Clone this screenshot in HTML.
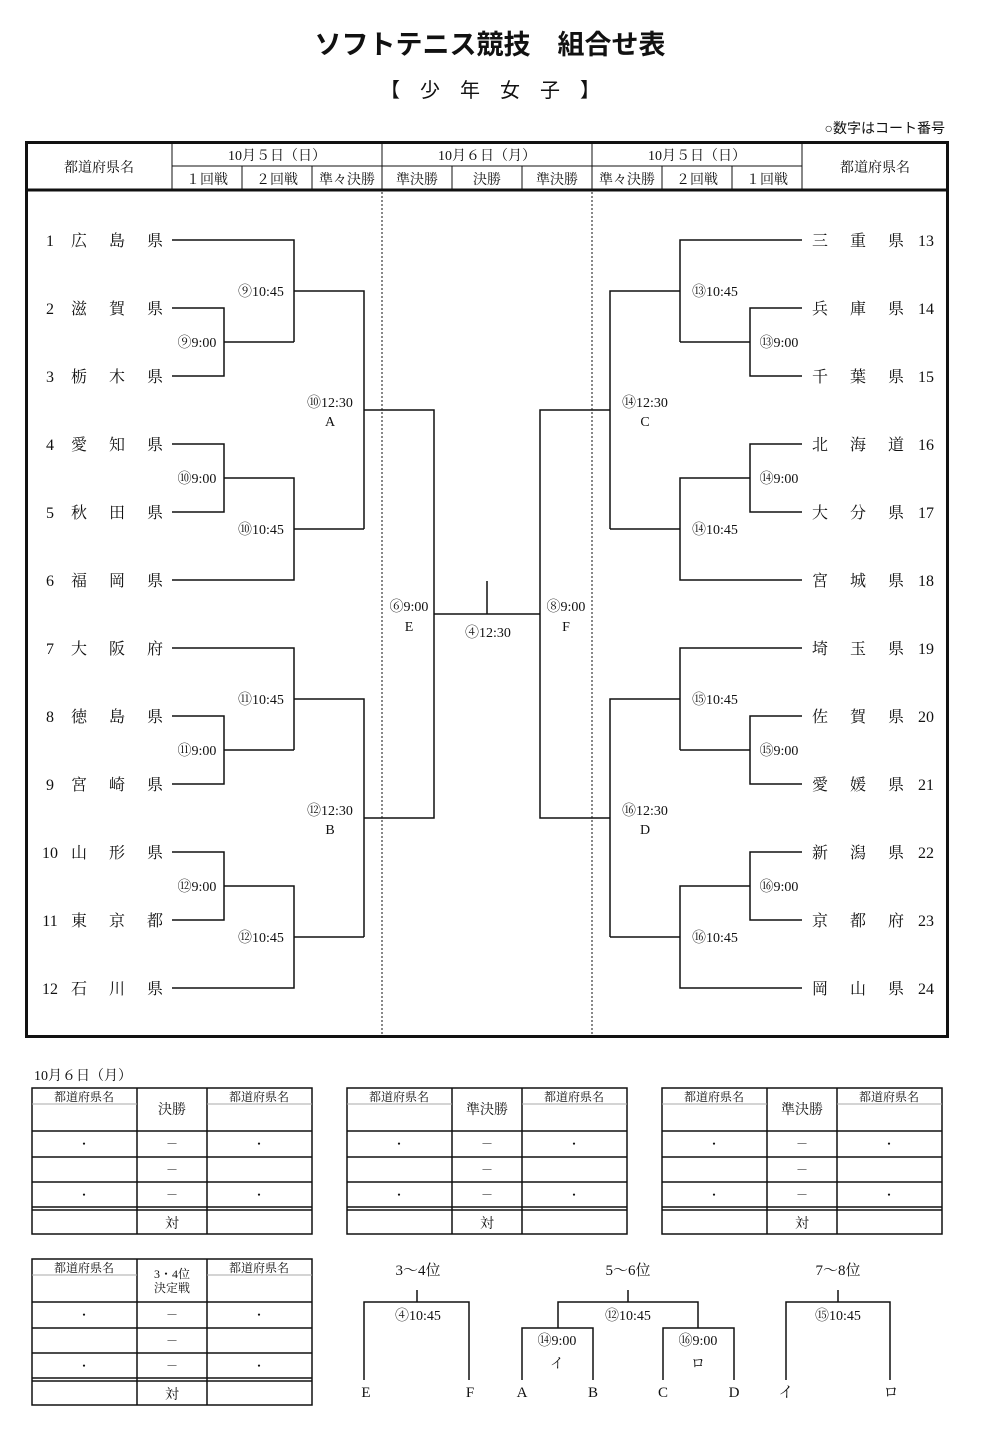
<!DOCTYPE html>
<html><head><meta charset="utf-8"><style>
html,body{margin:0;padding:0;background:#fff;}
svg{display:block;}
text{font-family:"Liberation Serif","Noto Serif CJK SC","Noto Sans CJK JP",serif;fill:#111;}
.g{font-family:"Liberation Sans","Noto Sans CJK JP",sans-serif;}
</style></head><body>
<svg width="983" height="1434" viewBox="0 0 983 1434" xmlns="http://www.w3.org/2000/svg">
<text x="490" y="54" font-size="27" text-anchor="middle" class="g" font-weight="bold">ソフトテニス競技　組合せ表</text>
<text x="490" y="97" font-size="20" text-anchor="middle" class="g">【　少　年　女　子　】</text>
<text x="945" y="133" font-size="14" text-anchor="end" class="g">○数字はコート番号</text>

<g fill="none" stroke="#111">
<rect x="26.5" y="142.5" width="921" height="894" stroke-width="3"/>
<line x1="26" y1="190" x2="948" y2="190" stroke-width="3"/>
<line x1="172" y1="166" x2="802" y2="166"/>
<line x1="172" y1="142" x2="172" y2="190"/>
<line x1="802" y1="142" x2="802" y2="190"/>
<line x1="382" y1="142" x2="382" y2="190"/>
<line x1="592" y1="142" x2="592" y2="190"/>
<line x1="242" y1="166" x2="242" y2="190"/>
<line x1="312" y1="166" x2="312" y2="190"/>
<line x1="452" y1="166" x2="452" y2="190"/>
<line x1="522" y1="166" x2="522" y2="190"/>
<line x1="662" y1="166" x2="662" y2="190"/>
<line x1="732" y1="166" x2="732" y2="190"/>
<line x1="382" y1="192" x2="382" y2="1036" stroke-dasharray="2,2"/>
<line x1="592" y1="192" x2="592" y2="1036" stroke-dasharray="2,2"/>
</g>
<g font-size="14" text-anchor="middle" class="g">
<text x="99" y="172">都道府県名</text>
<text x="875" y="172">都道府県名</text>
<text x="277" y="160">10月５日（日）</text>
<text x="487" y="160">10月６日（月）</text>
<text x="697" y="160">10月５日（日）</text>
<text x="207" y="184">１回戦</text><text x="277" y="184">２回戦</text><text x="347" y="184">準々決勝</text>
<text x="417" y="184">準決勝</text><text x="487" y="184">決勝</text><text x="557" y="184">準決勝</text>
<text x="627" y="184">準々決勝</text><text x="697" y="184">２回戦</text><text x="767" y="184">１回戦</text>
</g>

<g fill="none" stroke="#111" stroke-width="1.5">
<!-- left -->
<path d="M172 240H294V342M172 308H224V376H172M224 342H294M294 291H364V529"/>
<path d="M172 444H224V512H172M224 478H294V580H172M294 529H364"/>
<path d="M172 648H294V750M172 716H224V784H172M224 750H294M294 699H364V937"/>
<path d="M172 852H224V920H172M224 886H294V988H172M294 937H364"/>
<path d="M364 410H434V818H364M434 614H540M487 581V614"/>
<!-- right -->
<path d="M802 240H680V342M802 308H750V376H802M750 342H680M680 291H610V529"/>
<path d="M802 444H750V512H802M750 478H680V580H802M680 529H610"/>
<path d="M802 648H680V750M802 716H750V784H802M750 750H680M680 699H610V937"/>
<path d="M802 852H750V920H802M750 886H680V988H802M680 937H610"/>
<path d="M610 410H540V818H610"/>
</g>

<g font-size="16">
<g text-anchor="middle">
<text x="50" y="246">1</text><text x="79" y="246">広</text><text x="117" y="246">島</text><text x="155" y="246">県</text>
<text x="50" y="314">2</text><text x="79" y="314">滋</text><text x="117" y="314">賀</text><text x="155" y="314">県</text>
<text x="50" y="382">3</text><text x="79" y="382">栃</text><text x="117" y="382">木</text><text x="155" y="382">県</text>
<text x="50" y="450">4</text><text x="79" y="450">愛</text><text x="117" y="450">知</text><text x="155" y="450">県</text>
<text x="50" y="518">5</text><text x="79" y="518">秋</text><text x="117" y="518">田</text><text x="155" y="518">県</text>
<text x="50" y="586">6</text><text x="79" y="586">福</text><text x="117" y="586">岡</text><text x="155" y="586">県</text>
<text x="50" y="654">7</text><text x="79" y="654">大</text><text x="117" y="654">阪</text><text x="155" y="654">府</text>
<text x="50" y="722">8</text><text x="79" y="722">徳</text><text x="117" y="722">島</text><text x="155" y="722">県</text>
<text x="50" y="790">9</text><text x="79" y="790">宮</text><text x="117" y="790">崎</text><text x="155" y="790">県</text>
<text x="50" y="858">10</text><text x="79" y="858">山</text><text x="117" y="858">形</text><text x="155" y="858">県</text>
<text x="50" y="926">11</text><text x="79" y="926">東</text><text x="117" y="926">京</text><text x="155" y="926">都</text>
<text x="50" y="994">12</text><text x="79" y="994">石</text><text x="117" y="994">川</text><text x="155" y="994">県</text>

<text x="820" y="246">三</text><text x="858" y="246">重</text><text x="896" y="246">県</text><text x="926" y="246">13</text>
<text x="820" y="314">兵</text><text x="858" y="314">庫</text><text x="896" y="314">県</text><text x="926" y="314">14</text>
<text x="820" y="382">千</text><text x="858" y="382">葉</text><text x="896" y="382">県</text><text x="926" y="382">15</text>
<text x="820" y="450">北</text><text x="858" y="450">海</text><text x="896" y="450">道</text><text x="926" y="450">16</text>
<text x="820" y="518">大</text><text x="858" y="518">分</text><text x="896" y="518">県</text><text x="926" y="518">17</text>
<text x="820" y="586">宮</text><text x="858" y="586">城</text><text x="896" y="586">県</text><text x="926" y="586">18</text>
<text x="820" y="654">埼</text><text x="858" y="654">玉</text><text x="896" y="654">県</text><text x="926" y="654">19</text>
<text x="820" y="722">佐</text><text x="858" y="722">賀</text><text x="896" y="722">県</text><text x="926" y="722">20</text>
<text x="820" y="790">愛</text><text x="858" y="790">媛</text><text x="896" y="790">県</text><text x="926" y="790">21</text>
<text x="820" y="858">新</text><text x="858" y="858">潟</text><text x="896" y="858">県</text><text x="926" y="858">22</text>
<text x="820" y="926">京</text><text x="858" y="926">都</text><text x="896" y="926">府</text><text x="926" y="926">23</text>
<text x="820" y="994">岡</text><text x="858" y="994">山</text><text x="896" y="994">県</text><text x="926" y="994">24</text>
</g>
<g font-size="14" text-anchor="middle">
<text x="197" y="347">⑨9:00</text><text x="261" y="296">⑨10:45</text>
<text x="197" y="483">⑩9:00</text><text x="261" y="534">⑩10:45</text>
<text x="330" y="407">⑩12:30</text><text x="330" y="426">A</text>
<text x="197" y="755">⑪9:00</text><text x="261" y="704">⑪10:45</text>
<text x="197" y="891">⑫9:00</text><text x="261" y="942">⑫10:45</text>
<text x="330" y="815">⑫12:30</text><text x="330" y="834">B</text>
<text x="409" y="611">⑥9:00</text><text x="409" y="631">E</text>
<text x="566" y="611">⑧9:00</text><text x="566" y="631">F</text>
<text x="488" y="637">④12:30</text>
<text x="779" y="347">⑬9:00</text><text x="715" y="296">⑬10:45</text>
<text x="779" y="483">⑭9:00</text><text x="715" y="534">⑭10:45</text>
<text x="645" y="407">⑭12:30</text><text x="645" y="426">C</text>
<text x="779" y="755">⑮9:00</text><text x="715" y="704">⑮10:45</text>
<text x="779" y="891">⑯9:00</text><text x="715" y="942">⑯10:45</text>
<text x="645" y="815">⑯12:30</text><text x="645" y="834">D</text>
</g>
</g>

<text x="34" y="1080" font-size="14">10月６日（月）</text>

<!-- tables -->
<defs>
<g id="tb">
<g fill="none" stroke="#111" stroke-width="1.5">
<rect x="0" y="0" width="280" height="146"/>
<line x1="105" y1="0" x2="105" y2="146"/><line x1="175" y1="0" x2="175" y2="146"/>
<line x1="0" y1="43" x2="280" y2="43"/><line x1="0" y1="69" x2="280" y2="69"/>
<line x1="0" y1="94" x2="280" y2="94"/><line x1="0" y1="119" x2="280" y2="119"/>
<line x1="0" y1="122" x2="280" y2="122"/>
</g>
<line x1="0" y1="16" x2="105" y2="16" stroke="#aaa"/><line x1="175" y1="16" x2="280" y2="16" stroke="#aaa"/>
<g font-size="12" text-anchor="middle">
<text x="52" y="13">都道府県名</text><text x="227" y="13">都道府県名</text>
<text x="52" y="60">・</text><text x="227" y="60">・</text><text x="52" y="111">・</text><text x="227" y="111">・</text>
<text x="140" y="60">－</text><text x="140" y="86">－</text><text x="140" y="111">－</text>
<text x="140" y="140" font-size="14">対</text>
</g>
</g>
</defs>
<use href="#tb" x="32" y="1088"/><text x="172" y="1114" font-size="14" text-anchor="middle">決勝</text>
<use href="#tb" x="347" y="1088"/><text x="487" y="1114" font-size="14" text-anchor="middle">準決勝</text>
<use href="#tb" x="662" y="1088"/><text x="802" y="1114" font-size="14" text-anchor="middle">準決勝</text>
<use href="#tb" x="32" y="1259"/><text x="172" y="1278" font-size="12" text-anchor="middle">3・4位</text><text x="172" y="1292" font-size="12" text-anchor="middle">決定戦</text>

<g fill="none" stroke="#111" stroke-width="1.5">
<path d="M364 1380V1302H469V1380M417 1290V1302"/>
<path d="M558 1328V1302H698V1328M628 1290V1302M522 1380V1328H593V1380M663 1380V1328H734V1380"/>
<path d="M786 1380V1302H890V1380M838 1290V1302"/>
</g>
<g font-size="15" text-anchor="middle">
<text x="418" y="1275">3～4位</text><text x="628" y="1275">5～6位</text><text x="838" y="1275">7～8位</text>
<text x="418" y="1320" font-size="14">④10:45</text><text x="628" y="1320" font-size="14">⑫10:45</text><text x="838" y="1320" font-size="14">⑮10:45</text>
<text x="557" y="1345" font-size="14">⑭9:00</text><text x="698" y="1345" font-size="14">⑯9:00</text>
<text x="557" y="1368" font-size="14">イ</text><text x="698" y="1368" font-size="14">ロ</text>
<text x="366" y="1397">E</text><text x="470" y="1397">F</text><text x="522" y="1397">A</text><text x="593" y="1397">B</text>
<text x="663" y="1397">C</text><text x="734" y="1397">D</text><text x="786" y="1397">イ</text><text x="891" y="1397">ロ</text>
</g>
</svg>
</body></html>
